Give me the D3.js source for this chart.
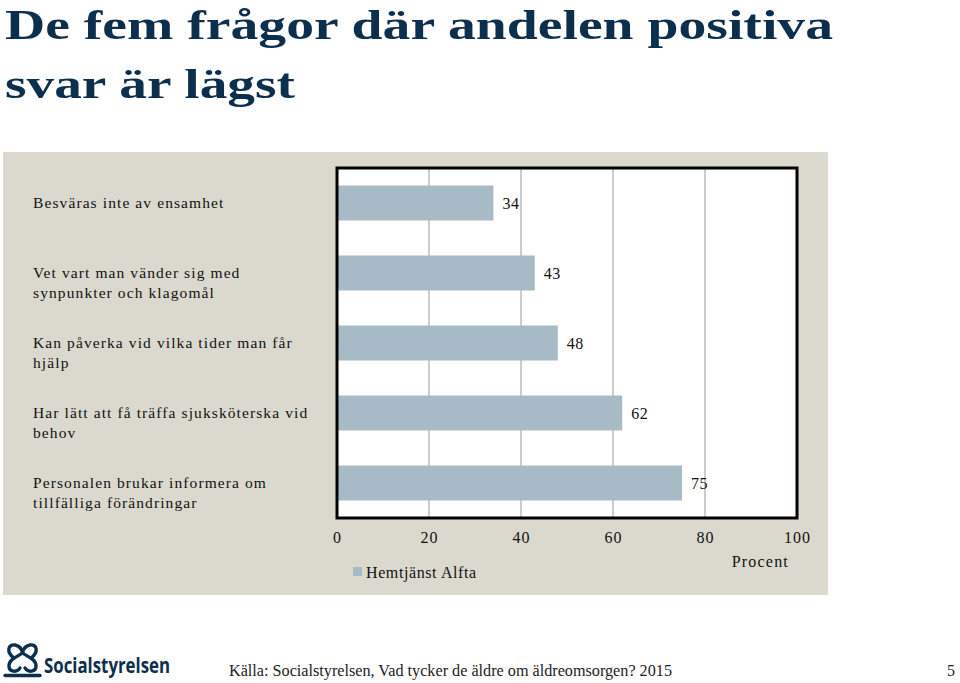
<!DOCTYPE html>
<html>
<head>
<meta charset="utf-8">
<script src="https://cdn.jsdelivr.net/npm/d3@7"></script>
<style>
  html, body { margin: 0; padding: 0; background: #ffffff; }
  svg { display: block; }
  .serif { font-family: "Liberation Serif", "Times New Roman", serif; }
</style>
</head>
<body>
<svg id="chart" width="960" height="683"></svg>
<script>
// ---- data ----
const titleLines = ["De fem frågor där andelen positiva", "svar är lägst"];
const categories = [
  "Besväras inte av ensamhet",
  "Vet vart man vänder sig med synpunkter och klagomål",
  "Kan påverka vid vilka tider man får hjälp",
  "Har lätt att få träffa sjuksköterska vid behov",
  "Personalen brukar informera om tillfälliga förändringar"
];
const values = [34, 43, 48, 62, 75];
const seriesName = "Hemtjänst Alfta";
const xTicks = [0, 20, 40, 60, 80, 100];
const xAxisTitle = "Procent";
const sourceText = "Källa: Socialstyrelsen, Vad tycker de äldre om äldreomsorgen? 2015";
const pageNumber = "5";
const logoText = "Socialstyrelsen";

// ---- styles ----
const navy = "#0d2f4e";
const barColor = "#a7bbc7";
const panelColor = "#dbd9cd";

const svg = d3.select("#chart");

// Title
svg.selectAll("text.title").data(titleLines).join("text")
  .attr("class", "title")
  .attr("x", 5)
  .attr("y", (d, i) => 39 + i * 59)
  .attr("font-family", "'Liberation Serif', serif")
  .attr("font-weight", "bold")
  .attr("font-size", 43)
  .attr("fill", navy)
  .attr("textLength", (d, i) => i === 0 ? 828 : 290)
  .attr("lengthAdjust", "spacingAndGlyphs")
  .text(d => d);

// Panel
svg.append("rect")
  .attr("x", 3).attr("y", 152).attr("width", 825).attr("height", 443)
  .attr("fill", panelColor);

// Plot area
const plot = { left: 337, right: 797, top: 168, bottom: 518 };
const x = d3.scaleLinear().domain([0, 100]).range([plot.left, plot.right]);
const y = d3.scaleBand().domain(categories).range([plot.top, plot.bottom]).paddingInner(0.5).paddingOuter(0.25);

svg.append("rect")
  .attr("x", plot.left).attr("y", plot.top)
  .attr("width", plot.right - plot.left).attr("height", plot.bottom - plot.top)
  .attr("fill", "#ffffff");

// Gridlines
svg.append("g").selectAll("line").data(xTicks.filter(t => t > 0 && t < 100)).join("line")
  .attr("x1", d => x(d)).attr("x2", d => x(d))
  .attr("y1", plot.top).attr("y2", plot.bottom)
  .attr("stroke", "#9a9a9a").attr("stroke-width", 1);

// Bars
svg.append("g").selectAll("rect").data(categories).join("rect")
  .attr("x", x(0))
  .attr("y", d => y(d))
  .attr("width", (d, i) => x(values[i]) - x(0))
  .attr("height", y.bandwidth())
  .attr("fill", barColor);

// Plot border
svg.append("rect")
  .attr("x", plot.left).attr("y", plot.top)
  .attr("width", plot.right - plot.left).attr("height", plot.bottom - plot.top)
  .attr("fill", "none").attr("stroke", "#000").attr("stroke-width", 3);

// Value labels
svg.append("g").selectAll("text").data(categories).join("text")
  .attr("class", "serif")
  .attr("x", (d, i) => x(values[i]) + 9)
  .attr("y", d => y(d) + y.bandwidth() / 2)
  .attr("dy", "0.35em")
  .attr("font-size", 16)
  .attr("letter-spacing", 0.5)
  .attr("fill", "#111")
  .text((d, i) => values[i]);

// X axis
const xAxis = d3.axisBottom(x).tickValues(xTicks).tickSize(0).tickPadding(0);
const gx = svg.append("g").attr("transform", `translate(0,${plot.bottom + 14})`).call(xAxis);
gx.select(".domain").remove();
gx.selectAll("text")
  .attr("class", "serif")
  .attr("font-family", "'Liberation Serif', serif")
  .attr("font-size", 16)
  .attr("letter-spacing", 1)
  .attr("fill", "#111");

svg.append("text")
  .attr("class", "serif")
  .attr("x", 789).attr("y", 567)
  .attr("text-anchor", "end")
  .attr("font-size", 16)
  .attr("letter-spacing", 1.2)
  .attr("fill", "#111")
  .text(xAxisTitle);

// Category labels (wrapped)
const labelX = 33, maxW = 280;
const lg = svg.append("g");
categories.forEach((cat, i) => {
  const t = lg.append("text")
    .attr("class", "serif")
    .attr("font-size", 15.5)
    .attr("letter-spacing", 1.1)
    .attr("fill", "#111");
  const words = cat.split(" ");
  let lines = [], cur = [];
  words.forEach(w => {
    const test = cur.concat([w]).join(" ");
    t.text(test);
    if (t.node().getComputedTextLength() > maxW && cur.length) {
      lines.push(cur.join(" "));
      cur = [w];
    } else cur.push(w);
  });
  lines.push(cur.join(" "));
  t.text(null);
  const cy = y(cat) + y.bandwidth() / 2;
  lines.forEach((ln, j) => {
    t.append("tspan").attr("x", labelX).attr("y", cy + j * 20).attr("dy", "0.35em").text(ln);
  });
});

// Legend
svg.append("rect").attr("x", 353).attr("y", 567).attr("width", 9).attr("height", 9).attr("fill", barColor);
svg.append("text")
  .attr("class", "serif")
  .attr("x", 366).attr("y", 578)
  .attr("font-size", 16)
  .attr("letter-spacing", 0.6)
  .attr("fill", "#111")
  .text(seriesName);

// Footer source
svg.append("text")
  .attr("class", "serif")
  .attr("x", 229).attr("y", 676)
  .attr("font-size", 16)
  .attr("fill", "#222")
  .attr("textLength", 443)
  .attr("lengthAdjust", "spacingAndGlyphs")
  .text(sourceText);
svg.append("text")
  .attr("class", "serif")
  .attr("x", 955).attr("y", 676)
  .attr("text-anchor", "end")
  .attr("font-size", 16)
  .attr("fill", "#222")
  .text(pageNumber);

// Logo
const logo = svg.append("g").attr("fill", "none").attr("stroke", navy).attr("stroke-width", 3.4).attr("stroke-linecap", "round");
logo.append("path").attr("d", "M14 658 C6 652 8 644 15 645 C20 646 22 650 22.5 653 C23 650 25 646 30 645 C37 644 39 652 31 658");
logo.append("path").attr("d", "M22.5 653 C17 657 9 659 9 666 C9 672 17 673 20 668");
logo.append("path").attr("d", "M22.5 653 C28 657 36 659 36 666 C36 672 28 673 25 668");
logo.append("path").attr("d", "M5 675.5 L40 675.5");
svg.append("text")
  .attr("x", 44).attr("y", 673)
  .attr("font-family", "'Open Sans', sans-serif")
  .attr("font-weight", "bold")
  .attr("font-size", 21)
  .attr("fill", navy)
  .attr("textLength", 126)
  .attr("lengthAdjust", "spacingAndGlyphs")
  .text(logoText);
</script>
</body>
</html>
